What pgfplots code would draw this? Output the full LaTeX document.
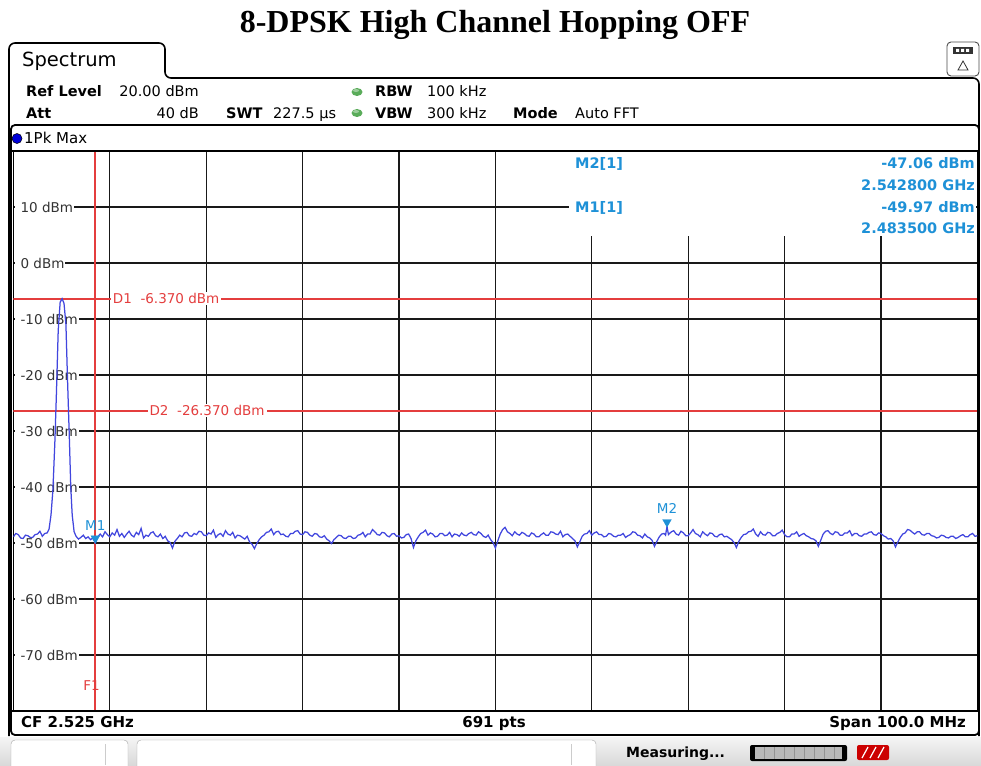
\documentclass[border=0pt]{standalone}
\usepackage{pgfplots}
\pgfplotsset{compat=1.18}
\usepackage{fontspec}
\setmainfont{DejaVu Sans}
\newfontfamily\titlefont{Liberation Serif}
\definecolor{trace}{RGB}{65,70,222}
\definecolor{mk}{RGB}{30,145,215}
\definecolor{dl}{RGB}{228,62,62}
\definecolor{gridc}{RGB}{25,25,25}
\definecolor{dotg}{RGB}{90,172,90}
\newcommand{\fs}[1]{\fontsize{#1}{#1}\selectfont}

\begin{document}
\begin{tikzpicture}
\begin{scope}[x=1pt,y=-1pt]
  \useasboundingbox (0,0) rectangle (981,765);
  \fill[white] (0,0) rectangle (981,765);
  % status bar background
  \shade[top color=gray!8, bottom color=gray!30] (0,737) rectangle (981,765);
  \draw[gray!70, fill=white, rounded corners=4] (11,740) rectangle (128,770);
  \draw[gray!70, fill=white, rounded corners=4] (137,740) rectangle (596,770);
  \draw[gray!40] (105,744) -- (105,765);
  \draw[gray!40] (571,744) -- (571,765);
  \node[anchor=base west, inner sep=0] at (626,757) {\fs{14}\bfseries Measuring...};
  \fill[black, rounded corners=2] (750,745) rectangle (847,761);
  \fill[gray!55] (755,747) rectangle (842,759);
  \foreach \xx in {764,774,784,794,804,814,824,834} {\draw[gray!85, line width=0.8] (\xx,747) -- (\xx,759);}
  \fill[red!80!black, rounded corners=2] (857,745) rectangle (889,760);
  \draw[white, line width=1.2] (862,758) -- (868,747) (870,758) -- (876,747) (878,758) -- (884,747);
  % title
  \node[anchor=base, inner sep=0] at (495,33) {\titlefont\fs{32}\bfseries 8-DPSK High Channel Hopping OFF};
  % top right icon
  \draw[gray!60!black, line width=0.9, rounded corners=4, fill=white] (947,42) rectangle (979,76);
  \fill[black!80] (953,47) rectangle (973,54);
  \fill[white] (956,49) rectangle (959,52) (961,49) rectangle (964,52) (966,49) rectangle (969,52);
  \draw[black!80, line width=0.8] (958,70) -- (963,61) -- (968,70) -- cycle;
\end{scope}

\begin{axis}[
  at={(13.4pt,-711pt)}, anchor=south west,
  scale only axis, width=964pt, height=560pt,
  xmin=2475, xmax=2575, ymin=-80, ymax=20,
  xtick={2485,2495,...,2565}, ytick={-70,-60,...,10},
  xticklabels={}, yticklabels={},
  major tick length=0pt,
  grid=major, grid style={gridc, line width=1.3pt},
  axis line style={black, line width=1.4pt},
  clip=true,
]
  % dBm labels
  \foreach \v/\t in {10/10 dBm,0/0 dBm,-10/-10 dBm,-20/-20 dBm,-30/-30 dBm,-40/-40 dBm,-50/-50 dBm,-60/-60 dBm,-70/-70 dBm} {
    \edef\temp{\noexpand\node[anchor=west, fill=white, inner xsep=1pt, inner ysep=1pt, text=black!80] at (axis cs:2475.1,\v) {\noexpand\hspace{5pt}\noexpand\fs{13.5}\t};}
    \temp
  }
  % marker info white box
  \fill[white] (axis cs:2532.6,19.85) rectangle (axis cs:2574.85,4.8);
  % display lines
  \draw[dl, line width=2pt] (axis cs:2475,-6.37) -- (axis cs:2575,-6.37);
  \draw[dl, line width=2pt] (axis cs:2475,-26.37) -- (axis cs:2575,-26.37);
  \draw[dl, line width=2pt] (axis cs:2483.5,-80) -- (axis cs:2483.5,20);
  \node[anchor=west, fill=white, inner xsep=2pt, inner ysep=1pt, text=dl] at (axis cs:2485.1,-6.37) {\fs{13.5}D1\ \ -6.370 dBm};
  \node[anchor=west, fill=white, inner xsep=2pt, inner ysep=1pt, text=dl] at (axis cs:2488.9,-26.37) {\fs{13.5}D2\ \ -26.370 dBm};
  \node[text=dl, inner sep=0] at (axis cs:2483.1,-75.4) {\fs{13.5}F1};
  % trace
  \addplot[trace, line width=1.25pt] coordinates {
  (2475.00,-48.9) (2475.25,-48.3) (2475.50,-48.5) (2475.75,-49.1)
  (2476.00,-49.2) (2476.25,-48.6) (2476.50,-48.7) (2476.75,-49.0)
  (2477.00,-49.0) (2477.25,-48.5) (2477.50,-48.4) (2477.75,-47.9)
  (2478.00,-48.8) (2478.25,-48.3) (2478.50,-48.2) (2478.70,-47.5)
  (2478.90,-45.0) (2479.10,-40.5) (2479.30,-32.0) (2479.45,-24.0)
  (2479.65,-12.0) (2479.85,-7.0) (2480.05,-6.37) (2480.25,-7.2)
  (2480.45,-11.0) (2480.60,-20.0) (2480.80,-31.0) (2480.95,-40.0)
  (2481.10,-45.0) (2481.30,-48.0) (2481.50,-48.8) (2481.75,-49.3)
  (2482.00,-49.0) (2482.25,-48.6) (2482.50,-49.2) (2482.75,-48.9)
  (2483.00,-49.4) (2483.25,-49.1) (2483.50,-49.97) (2483.75,-48.9)
  (2484.00,-48.4) (2484.25,-48.9) (2484.50,-48.0) (2484.75,-48.5)
  (2485.00,-48.9) (2485.25,-48.2) (2485.50,-48.6) (2485.75,-47.6)
  (2486.00,-48.8) (2486.25,-48.3) (2486.50,-49.0) (2486.75,-48.4)
  (2487.00,-47.9) (2487.25,-48.6) (2487.50,-48.9) (2487.75,-48.1)
  (2488.00,-48.5) (2488.25,-47.4) (2488.50,-49.1) (2488.75,-48.6)
  (2489.00,-48.8) (2489.25,-48.2) (2489.50,-48.0) (2489.75,-48.7)
  (2490.00,-48.9) (2490.25,-48.4) (2490.50,-49.2) (2490.75,-48.8)
  (2491.00,-49.6) (2491.25,-49.9) (2491.50,-50.9) (2491.75,-49.7)
  (2492.00,-49.2) (2492.25,-48.6) (2492.50,-48.9) (2492.75,-48.2)
  (2493.00,-48.1) (2493.25,-48.7) (2493.50,-48.8) (2493.75,-48.3)
  (2494.00,-48.5) (2494.25,-47.9) (2494.50,-48.0) (2494.75,-48.6)
  (2495.00,-48.7) (2495.25,-48.2) (2495.50,-48.4) (2495.75,-47.7)
  (2496.00,-49.0) (2496.25,-48.5) (2496.50,-48.3) (2496.75,-48.8)
  (2497.00,-47.8) (2497.25,-48.4) (2497.50,-48.6) (2497.75,-48.1)
  (2498.00,-49.1) (2498.25,-48.6) (2498.50,-48.7) (2498.75,-49.0)
  (2499.00,-49.3) (2499.25,-48.8) (2499.50,-49.8) (2499.75,-50.2)
  (2500.00,-51.0) (2500.25,-50.1) (2500.50,-49.4) (2500.75,-48.9)
  (2501.00,-48.6) (2501.25,-48.1) (2501.50,-48.0) (2501.75,-47.5)
  (2502.00,-48.5) (2502.25,-48.0) (2502.50,-47.9) (2502.75,-48.5)
  (2503.00,-48.4) (2503.25,-48.8) (2503.50,-48.9) (2503.75,-48.3)
  (2504.00,-48.3) (2504.25,-47.9) (2504.50,-47.8) (2504.75,-48.4)
  (2505.00,-48.5) (2505.25,-48.0) (2505.50,-48.1) (2505.75,-48.6)
  (2506.00,-48.8) (2506.25,-48.3) (2506.50,-48.4) (2506.75,-48.9)
  (2507.00,-49.0) (2507.25,-48.7) (2507.50,-49.3) (2507.75,-49.6)
  (2508.00,-50.1) (2508.25,-49.4) (2508.50,-49.0) (2508.75,-48.6)
  (2509.00,-48.7) (2509.25,-49.1) (2509.50,-49.2) (2509.75,-48.8)
  (2510.00,-48.8) (2510.25,-49.2) (2510.50,-49.1) (2510.75,-48.6)
  (2511.00,-48.5) (2511.25,-48.1) (2511.50,-48.9) (2511.75,-48.4)
  (2512.00,-48.4) (2512.25,-47.6) (2512.50,-48.0) (2512.75,-48.5)
  (2513.00,-48.6) (2513.25,-48.1) (2513.50,-48.2) (2513.75,-48.7)
  (2514.00,-48.9) (2514.25,-48.4) (2514.50,-48.3) (2514.75,-48.8)
  (2515.00,-48.7) (2515.25,-49.1) (2515.50,-49.0) (2515.75,-48.5)
  (2516.00,-48.4) (2516.25,-49.2) (2516.50,-50.8) (2516.75,-49.6)
  (2517.00,-48.9) (2517.25,-48.3) (2517.50,-48.1) (2517.75,-47.7)
  (2518.00,-48.6) (2518.25,-48.2) (2518.50,-48.4) (2518.75,-48.9)
  (2519.00,-48.8) (2519.25,-48.3) (2519.50,-48.3) (2519.75,-48.7)
  (2520.00,-48.6) (2520.25,-48.1) (2520.50,-48.9) (2520.75,-48.4)
  (2521.00,-48.5) (2521.25,-48.8) (2521.50,-48.2) (2521.75,-48.6)
  (2522.00,-48.7) (2522.25,-48.3) (2522.50,-48.1) (2522.75,-48.5)
  (2523.00,-48.6) (2523.25,-48.0) (2523.50,-48.3) (2523.75,-48.8)
  (2524.00,-49.0) (2524.25,-48.6) (2524.50,-49.4) (2524.75,-49.9)
  (2525.00,-50.9) (2525.25,-49.6) (2525.50,-48.4) (2525.75,-47.6)
  (2526.00,-47.2) (2526.25,-48.0) (2526.50,-48.3) (2526.75,-48.7)
  (2527.00,-48.0) (2527.25,-48.4) (2527.50,-48.6) (2527.75,-48.1)
  (2528.00,-48.3) (2528.25,-48.7) (2528.50,-48.8) (2528.75,-48.2)
  (2529.00,-48.4) (2529.25,-48.9) (2529.50,-48.9) (2529.75,-48.5)
  (2530.00,-48.2) (2530.25,-48.6) (2530.50,-48.6) (2530.75,-48.0)
  (2531.00,-48.1) (2531.25,-48.4) (2531.50,-48.5) (2531.75,-47.9)
  (2532.00,-48.9) (2532.25,-48.5) (2532.50,-48.4) (2532.75,-48.8)
  (2533.00,-49.2) (2533.25,-49.6) (2533.50,-50.7) (2533.75,-49.8)
  (2534.00,-48.8) (2534.25,-48.4) (2534.50,-48.3) (2534.75,-47.8)
  (2535.00,-48.6) (2535.25,-48.2) (2535.50,-48.0) (2535.75,-48.5)
  (2536.00,-48.5) (2536.25,-48.9) (2536.50,-48.8) (2536.75,-48.3)
  (2537.00,-48.4) (2537.25,-48.8) (2537.50,-48.9) (2537.75,-48.6)
  (2538.00,-48.6) (2538.25,-48.3) (2538.50,-49.0) (2538.75,-48.7)
  (2539.00,-48.5) (2539.25,-48.0) (2539.50,-48.1) (2539.75,-48.6)
  (2540.00,-48.7) (2540.25,-49.1) (2540.50,-48.4) (2540.75,-48.9)
  (2541.00,-49.1) (2541.25,-49.5) (2541.50,-50.6) (2541.75,-49.7)
  (2542.00,-48.9) (2542.25,-48.4) (2542.50,-48.3) (2542.65,-48.6)
  (2542.80,-47.06) (2542.95,-48.5) (2543.25,-48.0) (2543.50,-47.8)
  (2543.75,-48.4) (2544.00,-48.6) (2544.25,-47.9) (2544.50,-48.2)
  (2544.75,-48.7) (2545.00,-48.7) (2545.25,-48.2) (2545.50,-47.6)
  (2545.75,-48.3) (2546.00,-48.5) (2546.25,-48.9) (2546.50,-48.0)
  (2546.75,-48.4) (2547.00,-48.7) (2547.25,-48.2) (2547.50,-48.3)
  (2547.75,-48.8) (2548.00,-48.9) (2548.25,-48.5) (2548.50,-48.4)
  (2548.75,-48.9) (2549.00,-48.8) (2549.25,-49.1) (2549.50,-49.4)
  (2549.75,-49.9) (2550.00,-50.8) (2550.25,-49.7) (2550.50,-49.0)
  (2550.75,-48.5) (2551.00,-48.4) (2551.25,-48.0) (2551.50,-47.9)
  (2551.75,-47.5) (2552.00,-48.4) (2552.25,-48.8) (2552.50,-48.0)
  (2552.75,-48.5) (2553.00,-48.6) (2553.25,-48.1) (2553.50,-48.2)
  (2553.75,-48.7) (2554.00,-48.7) (2554.25,-48.3) (2554.50,-48.1)
  (2554.75,-47.7) (2555.00,-48.5) (2555.25,-48.9) (2555.50,-48.9)
  (2555.75,-48.4) (2556.00,-48.4) (2556.25,-48.0) (2556.50,-48.8)
  (2556.75,-48.5) (2557.00,-48.3) (2557.25,-48.7) (2557.50,-48.9)
  (2557.75,-49.2) (2558.00,-49.3) (2558.25,-49.6) (2558.50,-50.6)
  (2558.75,-49.5) (2559.00,-48.4) (2559.25,-47.9) (2559.50,-47.8)
  (2559.75,-48.3) (2560.00,-48.5) (2560.25,-48.0) (2560.50,-48.1)
  (2560.75,-48.6) (2561.00,-48.6) (2561.25,-48.2) (2561.50,-48.2)
  (2561.75,-47.8) (2562.00,-48.7) (2562.25,-48.3) (2562.50,-48.3)
  (2562.75,-48.7) (2563.00,-48.8) (2563.25,-48.4) (2563.50,-48.4)
  (2563.75,-48.1) (2564.00,-48.0) (2564.25,-48.5) (2564.50,-48.6)
  (2564.75,-48.2) (2565.00,-48.3) (2565.25,-48.7) (2565.50,-48.9)
  (2565.75,-49.3) (2566.00,-49.2) (2566.25,-49.6) (2566.50,-50.7)
  (2566.75,-49.8) (2567.00,-49.0) (2567.25,-48.4) (2567.50,-48.2)
  (2567.75,-47.6) (2568.00,-47.7) (2568.25,-48.1) (2568.50,-48.4)
  (2568.75,-48.0) (2569.00,-48.0) (2569.25,-48.5) (2569.50,-48.6)
  (2569.75,-48.3) (2570.00,-48.3) (2570.25,-48.7) (2570.50,-48.8)
  (2570.75,-49.1) (2571.00,-49.0) (2571.25,-48.6) (2571.50,-48.7)
  (2571.75,-49.0) (2572.00,-49.1) (2572.25,-48.8) (2572.50,-48.8)
  (2572.75,-49.2) (2573.00,-49.0) (2573.25,-48.7) (2573.50,-48.5)
  (2573.75,-48.9) (2574.00,-48.9) (2574.25,-48.5) (2574.50,-48.3)
  (2574.75,-48.8) (2575.00,-48.7)
  };
  % markers
  \addplot[only marks, mark=triangle*, mark size=5pt, color=mk, mark options={yshift=4.5pt, rotate=180}] coordinates {(2483.5,-49.97) (2542.8,-47.06)};
  \node[text=mk, inner sep=0] at (axis cs:2483.5,-46.9) {\fs{13.5}M1};
  \node[text=mk, inner sep=0] at (axis cs:2542.8,-43.8) {\fs{13.5}M2};
\end{axis}

\begin{scope}[x=1pt,y=-1pt]
  % outer panel with tab
  \draw[black, line width=1.6pt, rounded corners=6] (9,736) -- (9,43) -- (165,43) -- (165,78) -- (979,78) -- (979,736);
  \node[anchor=base west, inner sep=0] at (22,67) {\fs{19.5}Spectrum};
  % header
  \node[anchor=base west, inner sep=0] at (26,97) {\fs{14.5}\bfseries Ref Level};
  \node[anchor=base east, inner sep=0] at (199,97) {\fs{14.5}20.00 dBm};
  \node[anchor=base west, inner sep=0] at (26,118.5) {\fs{14.5}\bfseries Att};
  \node[anchor=base east, inner sep=0] at (199,118.5) {\fs{14.5}40 dB};
  \node[anchor=base west, inner sep=0] at (226,118.5) {\fs{14.5}\bfseries SWT};
  \node[anchor=base west, inner sep=0] at (273,118.5) {\fs{14.5}227.5 μs};
  \fill[dotg] (357,92) ellipse (5.5 and 4);
  \fill[dotg] (357,113) ellipse (5.5 and 4);
  \fill[white, opacity=0.4] (356,90.5) ellipse (3 and 1.5);
  \fill[white, opacity=0.4] (356,111.5) ellipse (3 and 1.5);
  \node[anchor=base west, inner sep=0] at (375,97) {\fs{14.5}\bfseries RBW};
  \node[anchor=base west, inner sep=0] at (427,97) {\fs{14.5}100 kHz};
  \node[anchor=base west, inner sep=0] at (375,118.5) {\fs{14.5}\bfseries VBW};
  \node[anchor=base west, inner sep=0] at (427,118.5) {\fs{14.5}300 kHz};
  \node[anchor=base west, inner sep=0] at (513,118.5) {\fs{14.5}\bfseries Mode};
  \node[anchor=base west, inner sep=0] at (575,118.5) {\fs{14.5}Auto FFT};
  % plot frame
  \draw[black, line width=1.8pt, rounded corners=4] (11,125) rectangle (979,735);
  \draw[black, line width=1.2pt] (11,151) -- (979,151);
  \draw[black, line width=1.2pt] (11,711) -- (979,711);
  \fill[blue!85!black, draw=black, line width=0.5pt] (17,138.5) circle (5);
  \node[anchor=base west, inner sep=0] at (24,143.5) {\fs{15}1Pk Max};
  % bottom bar
  \node[anchor=base west, inner sep=0] at (21,727.5) {\fs{15}\bfseries CF 2.525 GHz};
  \node[anchor=base, inner sep=0] at (494,727.5) {\fs{15}\bfseries 691 pts};
  \node[anchor=base east, inner sep=0] at (966,727.5) {\fs{15}\bfseries Span 100.0 MHz};
  % marker info
  \begin{scope}[text=mk]
  \node[anchor=base west, inner sep=0] at (575,168) {\fs{14.5}\bfseries M2[1]};
  \node[anchor=base east, inner sep=0] at (975,168) {\fs{14.5}\bfseries -47.06 dBm};
  \node[anchor=base east, inner sep=0] at (975,190) {\fs{14.5}\bfseries 2.542800 GHz};
  \node[anchor=base west, inner sep=0] at (575,212) {\fs{14.5}\bfseries M1[1]};
  \node[anchor=base east, inner sep=0] at (975,212) {\fs{14.5}\bfseries -49.97 dBm};
  \node[anchor=base east, inner sep=0] at (975,233.5) {\fs{14.5}\bfseries 2.483500 GHz};
  \end{scope}
\end{scope}
\end{tikzpicture}
\end{document}
